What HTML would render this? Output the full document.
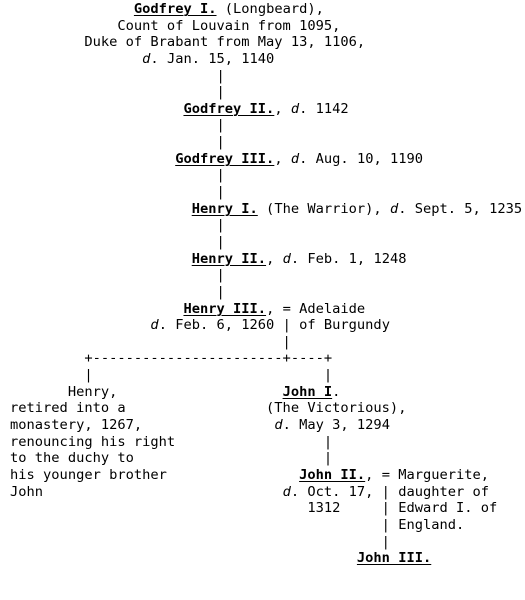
<!DOCTYPE html>
<html><head><meta charset="utf-8"><style>
html,body{margin:0;padding:0;background:#fff;width:525px;height:600px;overflow:hidden}
pre{position:absolute;left:10px;top:1px;margin:0;font-family:"DejaVu Sans Mono","Liberation Mono",monospace;font-size:13.72px;line-height:16.64px;color:#000}
b{text-decoration:underline;text-decoration-thickness:1px;text-underline-offset:2px}
i{font-style:italic}
</style></head><body><pre>               <b>Godfrey I.</b> (Longbeard),
             Count of Louvain from 1095,
         Duke of Brabant from May 13, 1106,
                <i>d</i>. Jan. 15, 1140
                         |
                         |
                     <b>Godfrey II.</b>, <i>d</i>. 1142
                         |
                         |
                    <b>Godfrey III.</b>, <i>d</i>. Aug. 10, 1190
                         |
                         |
                      <b>Henry I.</b> (The Warrior), <i>d</i>. Sept. 5, 1235
                         |
                         |
                      <b>Henry II.</b>, <i>d</i>. Feb. 1, 1248
                         |
                         |
                     <b>Henry III.</b>, = Adelaide
                 <i>d</i>. Feb. 6, 1260 | of Burgundy
                                 |
         +-----------------------+----+
         |                            |
       Henry,                    <b>John I</b>.
retired into a                 (The Victorious),
monastery, 1267,                <i>d</i>. May 3, 1294
renouncing his right                  |
to the duchy to                       |
his younger brother                <b>John II.</b>, = Marguerite,
John                             <i>d</i>. Oct. 17, | daughter of
                                    1312     | Edward I. of
                                             | England.
                                             |
                                          <b>John III.</b>
</pre></body></html>
